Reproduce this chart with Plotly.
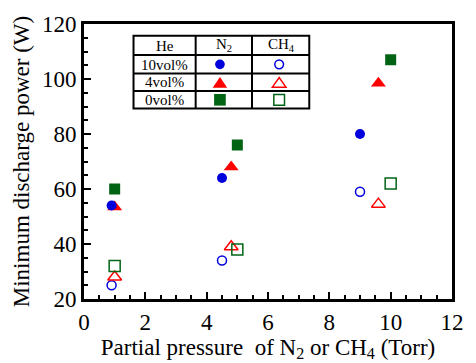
import plotly.graph_objects as go

# ---- data ----
x_10 = [0.9, 4.5, 9.0]
x_4 = [1.0, 4.8, 9.6]
x_0 = [1.0, 5.0, 10.0]
n2_10 = [54, 64, 80]
n2_4 = [53.5, 68, 98.5]
n2_0 = [60, 76, 107]
ch4_10 = [25, 34, 59]
ch4_4 = [28, 39, 54.5]
ch4_0 = [32, 38, 62]

x_ticks = [0, 2, 4, 6, 8, 10, 12]
y_ticks = [20, 40, 60, 80, 100, 120]

BLUE = "#0000dd"
RED = "#ff0000"
GREEN = "#006414"
FONT = "Liberation Serif"
FS = 23

fig = go.Figure()

def add(x, y, sym, color, size, filled):
    fig.add_trace(go.Scatter(
        x=x, y=y, mode="markers", showlegend=False,
        marker=dict(symbol=sym if filled else sym + "-open", size=size,
                    color=color, line=dict(color=color, width=0 if filled else 1.5))))

add(x_0, n2_0, "square", GREEN, 11, True)
add(x_4, n2_4, "triangle-up", RED, 13, True)
add(x_10, n2_10, "circle", BLUE, 10, True)
add(x_10, ch4_10, "circle", BLUE, 9, False)
add(x_4, ch4_4, "triangle-up", RED, 12, False)
add(x_0, ch4_0, "square", GREEN, 11, False)

W, H = 476, 363
L, R, T, B = 84, 463, 20, 303

def px(p):
    return (p - L) / (R - L)

def py(p):
    return (B - p) / (B - T)

shapes = []
# table
tl, tr, tt, tb = 135, 316, 32, 107
cols = [199, 257]
rows = [52, 71, 89]
lw = 2
shapes.append(dict(type="rect", xref="paper", yref="paper", x0=px(tl), x1=px(tr),
                   y0=py(tb), y1=py(tt), line=dict(color="black", width=lw),
                   fillcolor="white", layer="above"))
for c in cols:
    shapes.append(dict(type="line", xref="paper", yref="paper", x0=px(c), x1=px(c),
                       y0=py(tb), y1=py(tt), line=dict(color="black", width=lw)))
for r in rows:
    shapes.append(dict(type="line", xref="paper", yref="paper", x0=px(tl), x1=px(tr),
                       y0=py(r), y1=py(r), line=dict(color="black", width=lw)))

annotations = []
def txt(t, x, y, size=15):
    annotations.append(dict(text=t, x=px(x), y=py(y), xref="paper", yref="paper",
                            showarrow=False, font=dict(family=FONT, size=size, color="black"),
                            xanchor="center", yanchor="middle"))

txt("He", 167, 43)
txt("N<sub>2</sub>", 228, 42)
txt("CH<sub>4</sub>", 287, 42)
txt("10vol%", 167, 62)
txt("4vol%", 167, 80)
txt("0vol%", 167, 98)

# legend keys (layout decoration)
cN, cC = 224, 285
def circ(cx, cy, r, color, filled):
    shapes.append(dict(type="circle", xref="paper", yref="paper",
                       x0=px(cx - r), x1=px(cx + r), y0=py(cy + r), y1=py(cy - r),
                       line=dict(color=color, width=0 if filled else 1.5),
                       fillcolor=color if filled else "rgba(0,0,0,0)", layer="above"))
def sq(cx, cy, r, color, filled):
    shapes.append(dict(type="rect", xref="paper", yref="paper",
                       x0=px(cx - r), x1=px(cx + r), y0=py(cy + r), y1=py(cy - r),
                       line=dict(color=color, width=0 if filled else 1.5),
                       fillcolor=color if filled else "rgba(0,0,0,0)", layer="above"))
def tri(cx, cy, w, h, color, filled):
    X = lambda p: px(p)
    Y = lambda p: py(p)
    path = f"M {X(cx - w/2)} {Y(cy + h/2)} L {X(cx + w/2)} {Y(cy + h/2)} L {X(cx)} {Y(cy - h/2)} Z"
    shapes.append(dict(type="path", xref="paper", yref="paper", path=path,
                       line=dict(color=color, width=0 if filled else 1.5),
                       fillcolor=color if filled else "rgba(0,0,0,0)", layer="above"))

circ(cN, 61.5, 5, BLUE, True)
circ(cC, 61.5, 4.5, BLUE, False)
tri(cN, 80, 15, 11, RED, True)
tri(cC, 80, 14, 10, RED, False)
sq(cN, 98, 6, GREEN, True)
sq(cC, 98, 5.5, GREEN, False)

axfont = dict(family=FONT, size=FS, color="black")

fig.update_layout(
    width=W, height=H,
    margin=dict(l=L, r=W - R, t=T, b=H - B),
    plot_bgcolor="white", paper_bgcolor="white",
    font=axfont,
    shapes=shapes, annotations=annotations,
    xaxis=dict(range=[0, 12], tickvals=x_ticks, ticks="inside", ticklen=7, tickwidth=2,
               tickcolor="black", showline=True, linewidth=3, linecolor="black", mirror=True,
               showgrid=False, zeroline=False,
               minor=dict(dtick=0.5, ticks="inside", ticklen=4, tickwidth=2, tickcolor="black"),
               title=dict(text="Partial pressure  of N<sub>2</sub> or CH<sub>4</sub> (Torr)",
                          font=axfont, standoff=0),
               tickfont=axfont),
    yaxis=dict(range=[20, 120], tickvals=y_ticks, ticks="inside", ticklen=7, tickwidth=2,
               tickcolor="black", showline=True, linewidth=3, linecolor="black", mirror=True,
               showgrid=False, zeroline=False,
               minor=dict(dtick=5, ticks="inside", ticklen=4, tickwidth=2, tickcolor="black"),
               title=dict(text="Minimum discharge power (W)", font=axfont, standoff=6),
               tickfont=axfont),
)

fig.write_html("out.html")
